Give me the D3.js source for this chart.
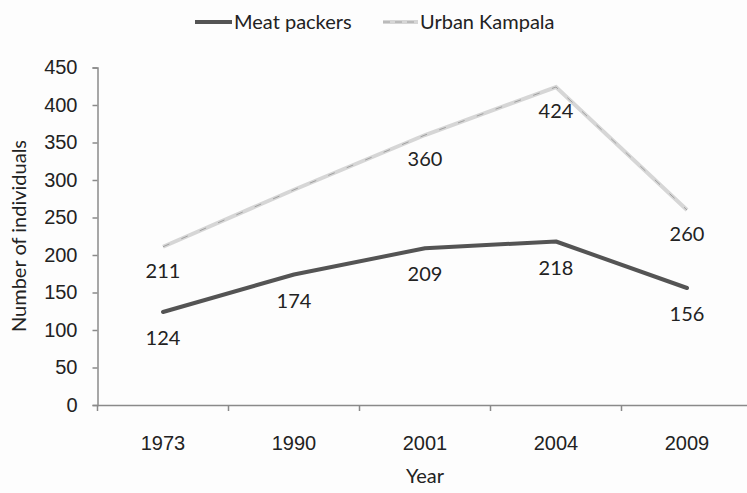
<!DOCTYPE html>
<html lang="en">
<head>
<meta charset="UTF-8">
<title>Meat packers vs Urban Kampala</title>
<script src="https://d3js.org/d3.v7.min.js"></script>
<style>
  body { margin: 0; background: #fdfdfd; }
  svg { display: block; font-family: Lato, "Open Sans", sans-serif; }
  text { fill: #222; }
</style>
</head>
<body>
<svg width="747" height="493"></svg>
<script>
// data
const years = ["1973", "1990", "2001", "2004", "2009"];
const meatPackers = [124, 174, 209, 218, 156];
const urbanKampala = [211, 287, 360, 424, 260];
const urbanLabelShown = [true, false, true, true, true];
const yTicks = [0, 50, 100, 150, 200, 250, 300, 350, 400, 450];

const svg = d3.select("svg");

const x = d3.scaleBand().domain(years).range([97.5, 752.5]);
const y = d3.scaleLinear().domain([0, 450]).range([405, 67.5]);
const cx = d => x(d) + x.bandwidth() / 2;

// y axis
const yAxis = svg.append("g")
  .attr("transform", "translate(97.5,0)")
  .call(d3.axisLeft(y).tickValues(yTicks).tickSize(5).tickPadding(15));
yAxis.selectAll("text").style("font-size", "20px").attr("fill", "#222");

// x axis (labels only, ticks drawn at band edges)
const xAxis = svg.append("g")
  .attr("transform", "translate(0,405)")
  .call(d3.axisBottom(x).tickSize(0).tickPadding(31));
xAxis.selectAll("text").style("font-size", "20px").attr("fill", "#222");
xAxis.append("g").selectAll("line")
  .data(years)
  .join("line")
  .attr("x1", d => x(d)).attr("x2", d => x(d))
  .attr("y1", 0).attr("y2", 6);

svg.selectAll(".domain, .tick line, g line")
  .attr("stroke", "#8a8a8a").attr("stroke-width", 1.5);

// axis titles
svg.append("text")
  .attr("x", 425).attr("y", 483)
  .attr("text-anchor", "middle")
  .style("font-size", "20px")
  .text("Year");
svg.append("text")
  .attr("transform", "translate(26,236) rotate(-90)")
  .attr("text-anchor", "middle")
  .style("font-size", "20px")
  .text("Number of individuals");

const line = d3.line().x((d, i) => cx(years[i])).y(d => y(d));

// urban kampala: pale grey line with speckles
svg.append("path")
  .datum(urbanKampala)
  .attr("d", line)
  .attr("fill", "none")
  .attr("stroke", "#d6d6d6")
  .attr("stroke-width", 4);
svg.append("path")
  .datum(urbanKampala)
  .attr("d", line)
  .attr("fill", "none")
  .attr("stroke", "#9a9a9a")
  .attr("stroke-width", 0.9)
  .attr("stroke-dasharray", "7 13");

// meat packers
svg.append("path")
  .datum(meatPackers)
  .attr("d", line)
  .attr("fill", "none")
  .attr("stroke", "#545454")
  .attr("stroke-width", 4)
  .attr("stroke-linecap", "round")
  .attr("stroke-linejoin", "round");

// data labels below points
const labelStyle = sel => sel
  .attr("text-anchor", "middle")
  .style("font-size", "20px");

svg.append("g").selectAll("text")
  .data(meatPackers)
  .join("text")
  .attr("x", (d, i) => cx(years[i]))
  .attr("y", d => y(d) + 33)
  .call(labelStyle)
  .text(d => d);

svg.append("g").selectAll("text")
  .data(urbanKampala.filter((d, i) => urbanLabelShown[i]))
  .join("text")
  .attr("x", d => cx(years[urbanKampala.indexOf(d)]))
  .attr("y", d => y(d) + 31)
  .call(labelStyle)
  .text(d => d);

// legend
const legend = svg.append("g");
legend.append("line")
  .attr("x1", 195).attr("x2", 232).attr("y1", 22).attr("y2", 22)
  .attr("stroke", "#545454").attr("stroke-width", 4);
legend.append("text")
  .attr("x", 234).attr("y", 29)
  .style("font-size", "20px")
  .text("Meat packers");
legend.append("line")
  .attr("x1", 383).attr("x2", 418).attr("y1", 22).attr("y2", 22)
  .attr("stroke", "#d6d6d6").attr("stroke-width", 4);
legend.append("line")
  .attr("x1", 383).attr("x2", 418).attr("y1", 22).attr("y2", 22)
  .attr("stroke", "#9a9a9a").attr("stroke-width", 0.9)
  .attr("stroke-dasharray", "7 5");
legend.append("text")
  .attr("x", 420).attr("y", 29)
  .style("font-size", "20px")
  .text("Urban Kampala");
</script>
</body>
</html>
